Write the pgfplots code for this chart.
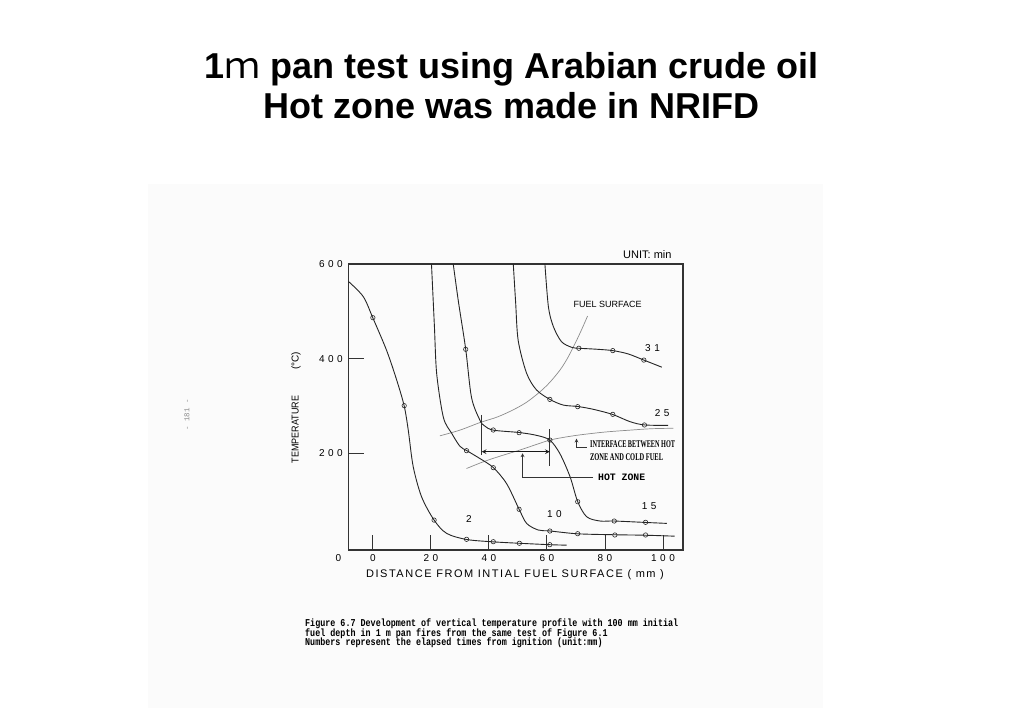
\documentclass[border=0pt]{standalone}
\usepackage{fontspec}
\usepackage{graphicx}
\usepackage{pgfplots}
\pgfplotsset{compat=1.18}
\setmainfont{Liberation Sans}
\newfontfamily\cjkfont{Noto Sans CJK JP}
\newfontfamily\tickfam[LetterSpace=35]{Liberation Sans}
\newfontfamily\xlabfam[LetterSpace=14]{Liberation Sans}
\newfontfamily\monofam{Liberation Mono}
\newfontfamily\capfam[FakeStretch=0.8]{Liberation Mono}
\newfontfamily\serfam{Liberation Serif}
\newcommand\tickfont{\tickfam\fontsize{10bp}{12bp}\selectfont}
\pgfplotsset{
  crv/.style={black!85, line width=0.9bp, smooth, mark=none},
  mk/.style={only marks, mark=o, mark size=2.2bp, mark options={black!85, line width=0.6bp, fill=white}},
  gcrv/.style={black!45, line width=0.7bp, smooth, mark=none},
}
\begin{document}
\begin{tikzpicture}
\useasboundingbox (0,0) rectangle (1023bp,708bp);
\fill[black!1.5] (148bp,0) rectangle (823bp,524bp);
\begin{axis}[
  at={(348.5bp,158bp)}, anchor=south west,
  scale only axis, width=334.5bp, height=286bp,
  xmin=-8.4, xmax=106.9, ymin=-4.2, ymax=600,
  clip=false,
  axis line style={black!80, line width=1.1bp},
  xtick={0,20,40,60,80,100},
  ytick={200,400},
  extra y ticks={600},
  extra y tick style={major tick length=0pt},
  tick align=inside, xtick pos=bottom, ytick pos=left,
  major tick length=15bp,
  tick style={black!80, line width=0.9bp},
  /pgf/number format/assume math mode=true,
  tick label style={font=\tickfont},
  xticklabel style={anchor=base, yshift=-12bp},
  yticklabel style={anchor=east, inner sep=0pt, xshift=-5.5bp},
]
% fuel surface and interface curves
\addplot[gcrv] coordinates {(23.1,237) (30,249) (36.9,265) (43,277) (48.4,292) (53,308) (57.6,330) (61,350) (64.5,376) (67,400) (69.7,432) (72,462) (74,490)};
\addplot[gcrv] coordinates {(32.3,168) (38,182) (43.8,194) (50.7,207) (56,218) (61,228) (66,234) (71.4,239) (80,245) (88.6,249) (96,252) (103.6,253)};
% 2 min
\addplot[crv] coordinates {(-8.4,563) (-3.3,531) (0,486) (4.7,418) (8.2,355) (10.8,300) (12.2,249) (13.9,172) (16.8,108) (21.1,59) (25.4,31) (32.3,18) (41.5,13) (50.5,10) (61,7) (66.8,6)};
\addplot[mk] coordinates {(0,486.6) (10.8,300.7) (21.1,59) (32.3,18.4) (41.5,13.3) (50.5,10) (61,7)};
% 10 min
\addplot[crv] coordinates {(20.2,600) (21.2,470) (22,368) (24.3,276) (27.1,243) (30,215) (32.3,206) (36.9,189) (41.5,170) (46.1,136) (50.4,82) (53,52) (57,38) (61,36) (70.6,30) (83.4,28) (94,27) (104,25)};
\addplot[mk] coordinates {(32.3,205.6) (41.5,169.7) (50.4,81.8) (61,35.9) (70.6,30.2) (83.4,27.5) (94,27.5)};
% 15 min
\addplot[crv] coordinates {(27.7,600) (29.5,520) (32,420) (34,318) (36.9,270) (38.5,258) (41.5,249) (50.4,244) (56.4,238) (61,228) (64.5,199) (68,150) (70.6,98) (73.7,66) (78.3,57) (83.2,57) (94,54) (101.3,52)};
\addplot[mk] coordinates {(32,419.8) (41.5,249.3) (50.4,243.6) (61,228) (70.6,97.8) (83.2,57) (94,54.3)};
% 25 min
\addplot[crv] coordinates {(48.4,600) (49.2,520) (50.1,438) (53,369) (56.4,334) (61,314) (65.6,302) (70.6,299) (76,293) (82.7,282) (88.6,267) (93.6,260) (101.8,259)};
\addplot[mk] coordinates {(61,314) (70.6,298.6) (82.7,282.4) (93.6,259.9)};
% 31 min
\addplot[crv] coordinates {(59.3,600) (60.5,510) (62.2,468) (65,436) (68.5,424) (71,422) (77,420) (82.7,417) (88,410) (93.4,397) (99.6,382)};
\addplot[mk] coordinates {(71,422) (82.7,417) (93.4,397)};
% hot zone bracket
\draw[black!80, line width=0.8bp] (axis cs:37.5,281) -- (axis cs:37.5,196);
\draw[black!80, line width=0.8bp] (axis cs:61,251) -- (axis cs:61,173);
\draw[black!90, line width=1.1bp, <->, >=stealth] (axis cs:37.5,203.5) -- (axis cs:61,203.5);
\draw[black!80, line width=0.7bp, ->, >=stealth] (axis cs:75.9,150) -- (axis cs:51.6,150) -- (axis cs:51.6,200);
\draw[black!80, line width=0.7bp, ->, >=stealth] (axis cs:73.8,213) -- (axis cs:70.2,213) -- (axis cs:70.2,231);
% labels inside
\node[font=\tickfont] at (axis cs:96.4,422) {31};
\node[font=\tickfont] at (axis cs:99.7,284.6) {25};
\node[font=\tickfont] at (axis cs:95.2,89.4) {15};
\node[font=\tickfont] at (axis cs:62.6,71.9) {10};
\node[font=\tickfont] at (axis cs:33.1,60.6) {2};
\node[font=\fontsize{9bp}{11bp}\selectfont] at (axis cs:80.9,514.9) {FUEL SURFACE};
\node[anchor=west, inner sep=0pt, font=\monofam\bfseries\fontsize{9.8bp}{11bp}\selectfont] at (axis cs:77.6,150) {HOT ZONE};
\node[anchor=west, inner sep=0pt] at (axis cs:74.8,219.7) {\resizebox{85bp}{6.8bp}{\serfam\bfseries INTERFACE BETWEEN HOT}};
\node[anchor=west, inner sep=0pt] at (axis cs:74.8,192.3) {\resizebox{73bp}{6.8bp}{\serfam\bfseries ZONE AND COLD FUEL}};
\end{axis}
% outside texts
\node[font=\tickfont] at (338.5bp,150bp) {0};
\node[rotate=90, font=\fontsize{10bp}{12bp}\selectfont] at (296bp,300.5bp) {\scalebox{0.9}[1]{TEMPERATURE}\hspace{26bp}(°C)};
\node[font=\xlabfam\fontsize{11bp}{13bp}\selectfont] at (515bp,133bp) {DISTANCE FROM INTIAL FUEL SURFACE ( mm )};
\node[anchor=east, font=\fontsize{11bp}{13bp}\selectfont] at (675bp,453bp) {UNIT:\ min};
\node[anchor=base, font=\bfseries\fontsize{36bp}{40bp}\selectfont] at (511.5bp,629bp) {1{\cjkfont\mdseries ｍ} pan test using Arabian crude oil};
\node[anchor=base, font=\bfseries\fontsize{36bp}{40bp}\selectfont] at (511.5bp,589bp) {Hot zone was made in NRIFD};
\node[anchor=base west, inner sep=0pt, font=\capfam\bfseries\fontsize{10.5bp}{10bp}\selectfont] at (305bp,81bp) {Figure 6.7 Development of vertical temperature profile with 100 mm initial};
\node[anchor=base west, inner sep=0pt, font=\capfam\bfseries\fontsize{10.5bp}{10bp}\selectfont] at (305bp,71bp) {fuel depth in 1 m pan fires from the same test of Figure 6.1};
\node[anchor=base west, inner sep=0pt, font=\capfam\bfseries\fontsize{10.5bp}{10bp}\selectfont] at (305bp,62bp) {Numbers represent the elapsed times from ignition (unit:mm)};
\node[rotate=90, text=black!45, font=\monofam\fontsize{7.5bp}{9bp}\selectfont] at (187bp,293bp) {- 181 -};
\end{tikzpicture}
\end{document}
